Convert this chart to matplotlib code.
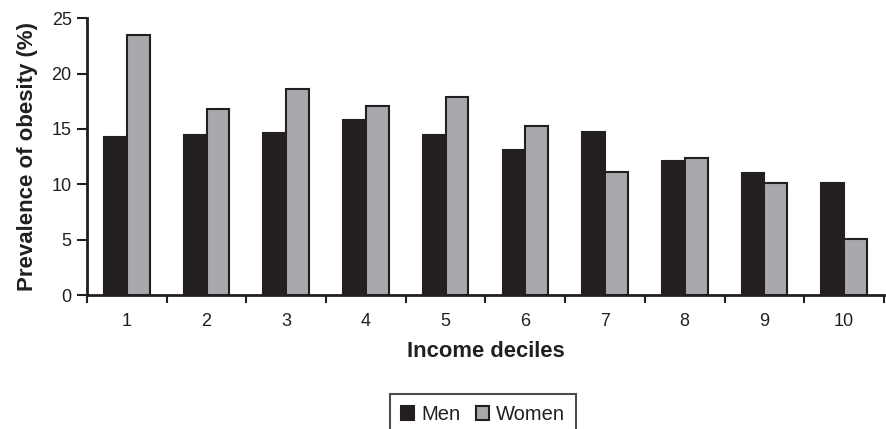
import matplotlib
matplotlib.use("Agg")
import matplotlib.pyplot as plt
import numpy as np

categories = ["1", "2", "3", "4", "5", "6", "7", "8", "9", "10"]
men = [14.3, 14.5, 14.6, 15.8, 14.5, 13.1, 14.7, 12.1, 11.0, 10.1]
women = [23.5, 16.8, 18.6, 17.1, 17.9, 15.3, 11.1, 12.4, 10.1, 5.1]
yticks = [0, 5, 10, 15, 20, 25]

plt.rcParams['font.family'] = ['Liberation Sans', 'DejaVu Sans']

W, H = 887, 429
fig = plt.figure(figsize=(W / 100, H / 100), dpi=100)
ax = fig.add_axes([87 / W, (H - 295) / H, (884 - 87) / W, (295 - 18.3) / H])

x = np.arange(1, len(categories) + 1)
bw = 1 / 3.5
ink = '#231f20'
grey = '#a7a9ac'
ax.bar(x - bw / 2, men, bw, color=ink, edgecolor=ink, linewidth=1.5, label='Men')
ax.bar(x + bw / 2, women, bw, color=grey, edgecolor=ink, linewidth=1.5, label='Women')

ax.set_xlim(0.5, len(categories) + 0.5)
ax.set_ylim(0, 25)
ax.set_yticks(yticks)
ax.set_xticks(np.arange(0.5, len(categories) + 1, 1))
ax.set_xticklabels([])
ax.set_xticks(x, minor=True)
ax.set_xticklabels(categories, minor=True)
ax.tick_params(axis='x', which='major', length=6, width=1.5, color=ink, direction='out')
ax.tick_params(axis='x', which='minor', length=0, pad=13, labelsize=13, labelcolor=ink)
ax.tick_params(axis='y', length=7, width=1.5, color=ink, labelsize=13, labelcolor=ink, pad=4)

for s in ['top', 'right']:
    ax.spines[s].set_visible(False)
for s in ['left', 'bottom']:
    ax.spines[s].set_linewidth(2)
    ax.spines[s].set_color(ink)

ax.set_ylabel('Prevalence of obesity (%)', fontsize=16, fontweight='bold', color=ink, labelpad=10)
ax.set_xlabel('Income deciles', fontsize=15.8, fontweight='bold', color=ink, labelpad=8)

leg = fig.legend(loc='upper center', bbox_to_anchor=(483 / W, (H - 394) / H), ncol=2,
                 fontsize=14.5, frameon=True, fancybox=False, handlelength=0.65, handleheight=0.65,
                 handletextpad=0.35, columnspacing=0.8, borderpad=0.55, borderaxespad=0)
leg.get_frame().set_edgecolor(ink)
leg.get_frame().set_linewidth(1.5)
for t in leg.get_texts():
    t.set_color(ink)

fig.savefig('out.png', dpi=100)
